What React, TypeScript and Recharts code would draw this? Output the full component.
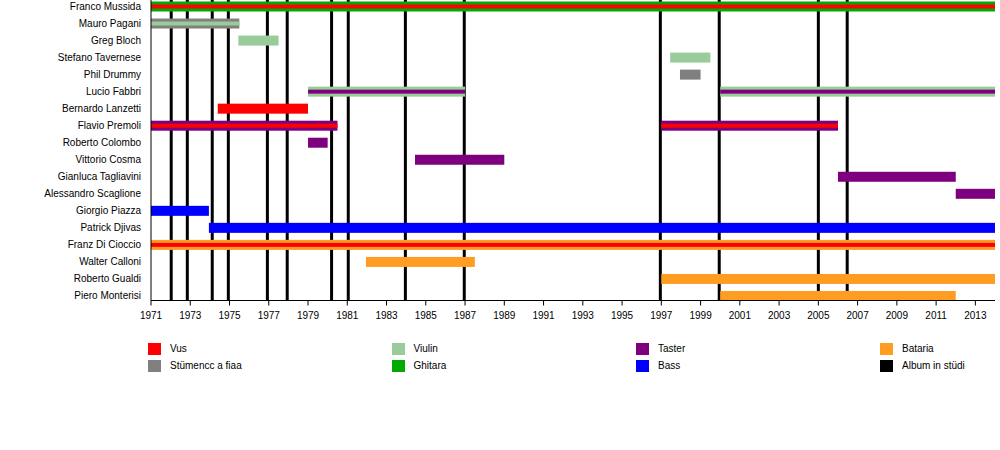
import React from 'react';
import { ComposedChart, Bar, XAxis, YAxis, ReferenceLine } from 'recharts';

const members = [
  'Franco Mussida', 'Mauro Pagani', 'Greg Bloch', 'Stefano Tavernese', 'Phil Drummy',
  'Lucio Fabbri', 'Bernardo Lanzetti', 'Flavio Premoli', 'Roberto Colombo', 'Vittorio Cosma',
  'Gianluca Tagliavini', 'Alessandro Scaglione', 'Giorgio Piazza', 'Patrick Djivas',
  'Franz Di Cioccio', 'Walter Calloni', 'Roberto Gualdi', 'Piero Monterisi',
];

const instruments = ['Vus', 'Stümencc a fiaa', 'Viulin', 'Ghitara', 'Taster', 'Bass', 'Bataria', 'Album in stüdi'];
const instrumentColors = ['#ff0000', '#808080', '#99cc99', '#00aa00', '#7f007f', '#0000ff', '#ff9c22', '#000000'];

// [member, from, to, main instrument, stripe instrument]
const periods: [string, number, number, string, string | null][] = [
  ['Franco Mussida', 1971, 2014, 'Ghitara', 'Vus'],
  ['Mauro Pagani', 1971, 1975.5, 'Stümencc a fiaa', 'Viulin'],
  ['Greg Bloch', 1975.45, 1977.5, 'Viulin', null],
  ['Stefano Tavernese', 1997.45, 1999.5, 'Viulin', null],
  ['Phil Drummy', 1997.95, 1999, 'Stümencc a fiaa', null],
  ['Lucio Fabbri', 1979, 1987, 'Viulin', 'Taster'],
  ['Lucio Fabbri', 2000, 2014, 'Viulin', 'Taster'],
  ['Bernardo Lanzetti', 1974.4, 1979, 'Vus', null],
  ['Flavio Premoli', 1971, 1980.5, 'Taster', 'Vus'],
  ['Flavio Premoli', 1997, 2006, 'Taster', 'Vus'],
  ['Roberto Colombo', 1979, 1980, 'Taster', null],
  ['Vittorio Cosma', 1984.45, 1989, 'Taster', null],
  ['Gianluca Tagliavini', 2006, 2012, 'Taster', null],
  ['Alessandro Scaglione', 2012, 2014, 'Taster', null],
  ['Giorgio Piazza', 1971, 1973.95, 'Bass', null],
  ['Patrick Djivas', 1973.95, 2014, 'Bass', null],
  ['Franz Di Cioccio', 1971, 2014, 'Bataria', 'Vus'],
  ['Walter Calloni', 1981.95, 1987.5, 'Bataria', null],
  ['Roberto Gualdi', 1997, 2014, 'Bataria', null],
  ['Piero Monterisi', 2000, 2012, 'Bataria', null],
];

const albums = [1972.03, 1972.85, 1974.12, 1974.94, 1976.93, 1977.94, 1980.2, 1981.05, 1983.96, 1986.96, 1996.95, 1999.95, 2005.0, 2006.47];

const yearTicks = [1971, 1973, 1975, 1977, 1979, 1981, 1983, 1985, 1987, 1989, 1991, 1993, 1995, 1997, 1999, 2001, 2003, 2005, 2007, 2009, 2011, 2013];

const colorOf = (inst: string) => instrumentColors[instruments.indexOf(inst)];

const rows = members.map((name) => {
  const row: any = { name };
  periods.filter((p) => p[0] === name).forEach((p, i) => {
    row['main' + i] = [p[1], p[2]];
    row['mainColor' + i] = colorOf(p[3]);
    if (p[4]) {
      row['stripe' + i] = [p[1], p[2]];
      row['stripeColor' + i] = colorOf(p[4]);
    }
  });
  return row;
});

const FONT = '"Liberation Sans", Arial, sans-serif';

const makeShape = (key: string, colorKey: string, stripe: boolean) => (props: any) => {
  const { x, y, width, height, payload } = props;
  if (!payload || !payload[key] || !(width > 0)) return <g />;
  const fill = payload[colorKey];
  if (stripe) return <rect x={x} y={y + 3} width={width} height={4} fill={fill} />;
  return <rect x={x} y={y} width={width} height={height} fill={fill} />;
};

const barKeys = [
  ['main0', 'mainColor0', false],
  ['main1', 'mainColor1', false],
  ['stripe0', 'stripeColor0', true],
  ['stripe1', 'stripeColor1', true],
] as [string, string, boolean][];

const legendCols = [148, 391.5, 636, 880];

export default function App() {
  return (
    <div style={{ position: 'absolute', left: 0, top: 0, width: 1000, height: 450, background: '#fff', fontFamily: FONT }}>
      <ComposedChart
        width={1000}
        height={450}
        data={rows}
        layout="vertical"
        margin={{ top: -2.5, right: 5, bottom: 119.5, left: 0 }}
        barSize={10}
        barGap={-10}
      >
        {albums.map((a) => (
          <ReferenceLine key={a} x={a} stroke="#000" strokeWidth={3} zIndex={0} />
        ))}
        <XAxis
          type="number"
          domain={[1971, 2014]}
          ticks={yearTicks}
          interval={0}
          allowDataOverflow
          height={30}
          stroke="#000"
          tickSize={5}
          tickMargin={6}
          tick={{ fill: '#000', fontSize: 10, fontFamily: FONT }}
        />
        <YAxis
          type="category"
          dataKey="name"
          width={151}
          interval={0}
          padding={{ top: 0, bottom: -3.5 }}
          stroke="#000"
          tickLine={false}
          tickSize={0}
          tickMargin={10}
          tick={{ fill: '#000', fontSize: 10, fontFamily: FONT }}
        />
        {barKeys.map(([k, c, s]) => (
          <Bar key={k} dataKey={k} isAnimationActive={false} shape={makeShape(k, c, s)} />
        ))}
      </ComposedChart>
      {instruments.map((name, idx) => {
        const col = Math.floor(idx / 2);
        const row = idx % 2;
        const left = legendCols[col];
        const top = 343 + row * 16.7;
        return (
          <div key={name}>
            <div style={{ position: 'absolute', left, top, width: 13, height: 12, background: instrumentColors[idx] }} />
            <div style={{ position: 'absolute', left: left + 22, top: top, lineHeight: '12px', fontSize: 10, color: '#000', whiteSpace: 'nowrap' }}>
              {name}
            </div>
          </div>
        );
      })}
    </div>
  );
}
